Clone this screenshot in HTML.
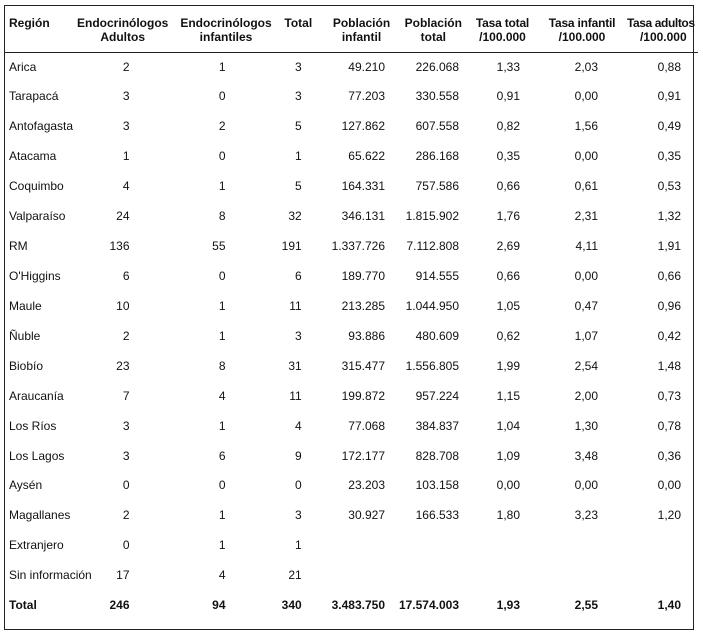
<!DOCTYPE html>
<html><head><meta charset="utf-8">
<style>
html,body{margin:0;padding:0;background:#fff;}
body{width:703px;height:634px;position:relative;overflow:hidden;font-family:"Liberation Sans",Arial,sans-serif;color:#111;font-size:12px;}
.ln{position:absolute;background:#222;}
.h{position:absolute;width:140px;text-align:center;font-weight:bold;line-height:14px;white-space:nowrap;}
.r{position:absolute;left:0;width:703px;height:14px;line-height:14px;}
.r span{position:absolute;white-space:nowrap;text-align:right;}
.r span.n{left:9px;text-align:left;}
.b{font-weight:bold;}
.c1{right:573.5px}.c2{right:477.5px}.c3{right:401.3px}.c4{right:318px}.c5{right:244px}.c6{right:183px}.c7{right:105px}.c8{right:22px}
</style></head><body>
<div class="ln" style="left:4px;top:5px;width:690px;height:1px"></div>
<div class="ln" style="left:4px;top:52px;width:694px;height:1px"></div>
<div class="ln" style="left:4px;top:629px;width:690px;height:1px"></div>
<div class="ln" style="left:4px;top:5px;width:1px;height:625px"></div>
<div class="ln" style="left:693px;top:5px;width:1px;height:625px"></div>

<div class="h" style="left:9px;top:15.5px;width:auto;text-align:left">Región</div>
<div class="h" style="left:52.7px;top:15.5px">Endocrinólogos</div>
<div class="h" style="left:52.7px;top:29.5px">Adultos</div>
<div class="h" style="left:156px;top:15.5px">Endocrinólogos</div>
<div class="h" style="left:156px;top:29.5px">infantiles</div>
<div class="h" style="left:228.3px;top:15.5px">Total</div>
<div class="h" style="left:291.5px;top:15.5px">Población</div>
<div class="h" style="left:291.5px;top:29.5px">infantil</div>
<div class="h" style="left:363.3px;top:15.5px">Población</div>
<div class="h" style="left:363.3px;top:29.5px">total</div>
<div class="h" style="left:432.5px;top:15.5px;letter-spacing:-0.2px">Tasa total</div>
<div class="h" style="left:432.5px;top:29.5px">/100.000</div>
<div class="h" style="left:512px;top:15.5px;letter-spacing:-0.2px">Tasa infantil</div>
<div class="h" style="left:512px;top:29.5px">/100.000</div>
<div class="h" style="left:590.8px;top:15.5px;letter-spacing:-0.4px">Tasa adultos</div>
<div class="h" style="left:593.3px;top:29.5px">/100.000</div>

<div class="r" style="top:59.5px"><span class="n">Arica</span><span class="c1">2</span><span class="c2">1</span><span class="c3">3</span><span class="c4">49.210</span><span class="c5">226.068</span><span class="c6">1,33</span><span class="c7">2,03</span><span class="c8">0,88</span></div>
<div class="r" style="top:89.4px"><span class="n">Tarapacá</span><span class="c1">3</span><span class="c2">0</span><span class="c3">3</span><span class="c4">77.203</span><span class="c5">330.558</span><span class="c6">0,91</span><span class="c7">0,00</span><span class="c8">0,91</span></div>
<div class="r" style="top:119.3px"><span class="n">Antofagasta</span><span class="c1">3</span><span class="c2">2</span><span class="c3">5</span><span class="c4">127.862</span><span class="c5">607.558</span><span class="c6">0,82</span><span class="c7">1,56</span><span class="c8">0,49</span></div>
<div class="r" style="top:149.3px"><span class="n">Atacama</span><span class="c1">1</span><span class="c2">0</span><span class="c3">1</span><span class="c4">65.622</span><span class="c5">286.168</span><span class="c6">0,35</span><span class="c7">0,00</span><span class="c8">0,35</span></div>
<div class="r" style="top:179.2px"><span class="n">Coquimbo</span><span class="c1">4</span><span class="c2">1</span><span class="c3">5</span><span class="c4">164.331</span><span class="c5">757.586</span><span class="c6">0,66</span><span class="c7">0,61</span><span class="c8">0,53</span></div>
<div class="r" style="top:209.1px"><span class="n">Valparaíso</span><span class="c1">24</span><span class="c2">8</span><span class="c3">32</span><span class="c4">346.131</span><span class="c5">1.815.902</span><span class="c6">1,76</span><span class="c7">2,31</span><span class="c8">1,32</span></div>
<div class="r" style="top:239.0px"><span class="n">RM</span><span class="c1">136</span><span class="c2">55</span><span class="c3">191</span><span class="c4">1.337.726</span><span class="c5">7.112.808</span><span class="c6">2,69</span><span class="c7">4,11</span><span class="c8">1,91</span></div>
<div class="r" style="top:268.9px"><span class="n">O'Higgins</span><span class="c1">6</span><span class="c2">0</span><span class="c3">6</span><span class="c4">189.770</span><span class="c5">914.555</span><span class="c6">0,66</span><span class="c7">0,00</span><span class="c8">0,66</span></div>
<div class="r" style="top:298.9px"><span class="n">Maule</span><span class="c1">10</span><span class="c2">1</span><span class="c3">11</span><span class="c4">213.285</span><span class="c5">1.044.950</span><span class="c6">1,05</span><span class="c7">0,47</span><span class="c8">0,96</span></div>
<div class="r" style="top:328.8px"><span class="n">Ñuble</span><span class="c1">2</span><span class="c2">1</span><span class="c3">3</span><span class="c4">93.886</span><span class="c5">480.609</span><span class="c6">0,62</span><span class="c7">1,07</span><span class="c8">0,42</span></div>
<div class="r" style="top:358.7px"><span class="n">Biobío</span><span class="c1">23</span><span class="c2">8</span><span class="c3">31</span><span class="c4">315.477</span><span class="c5">1.556.805</span><span class="c6">1,99</span><span class="c7">2,54</span><span class="c8">1,48</span></div>
<div class="r" style="top:388.6px"><span class="n">Araucanía</span><span class="c1">7</span><span class="c2">4</span><span class="c3">11</span><span class="c4">199.872</span><span class="c5">957.224</span><span class="c6">1,15</span><span class="c7">2,00</span><span class="c8">0,73</span></div>
<div class="r" style="top:418.5px"><span class="n">Los Ríos</span><span class="c1">3</span><span class="c2">1</span><span class="c3">4</span><span class="c4">77.068</span><span class="c5">384.837</span><span class="c6">1,04</span><span class="c7">1,30</span><span class="c8">0,78</span></div>
<div class="r" style="top:448.5px"><span class="n">Los Lagos</span><span class="c1">3</span><span class="c2">6</span><span class="c3">9</span><span class="c4">172.177</span><span class="c5">828.708</span><span class="c6">1,09</span><span class="c7">3,48</span><span class="c8">0,36</span></div>
<div class="r" style="top:478.4px"><span class="n">Aysén</span><span class="c1">0</span><span class="c2">0</span><span class="c3">0</span><span class="c4">23.203</span><span class="c5">103.158</span><span class="c6">0,00</span><span class="c7">0,00</span><span class="c8">0,00</span></div>
<div class="r" style="top:508.3px"><span class="n">Magallanes</span><span class="c1">2</span><span class="c2">1</span><span class="c3">3</span><span class="c4">30.927</span><span class="c5">166.533</span><span class="c6">1,80</span><span class="c7">3,23</span><span class="c8">1,20</span></div>
<div class="r" style="top:538.2px"><span class="n">Extranjero</span><span class="c1">0</span><span class="c2">1</span><span class="c3">1</span></div>
<div class="r" style="top:568.1px"><span class="n">Sin información</span><span class="c1">17</span><span class="c2">4</span><span class="c3">21</span></div>
<div class="r b" style="top:598.1px"><span class="n">Total</span><span class="c1">246</span><span class="c2">94</span><span class="c3">340</span><span class="c4">3.483.750</span><span class="c5">17.574.003</span><span class="c6">1,93</span><span class="c7">2,55</span><span class="c8">1,40</span></div>
</body></html>
